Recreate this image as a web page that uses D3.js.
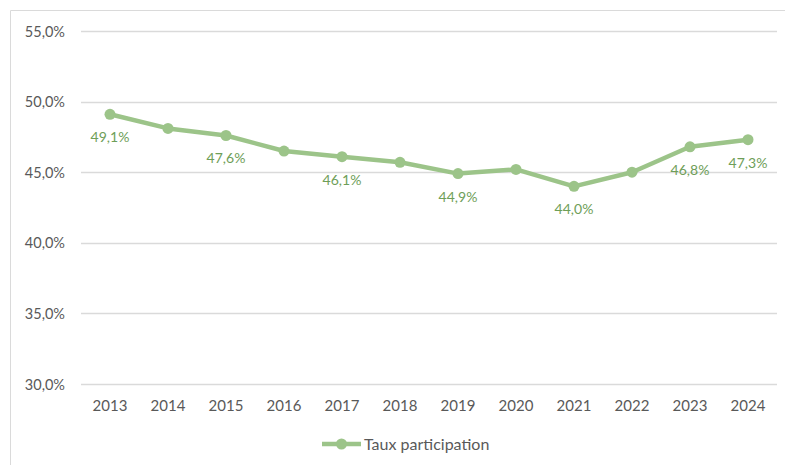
<!DOCTYPE html>
<html>
<head>
<meta charset="utf-8">
<script src="https://cdn.jsdelivr.net/npm/d3@7"></script>
<style>
  html, body { margin: 0; padding: 0; background: #fff; }
  svg { display: block; }
</style>
</head>
<body>
<svg id="chart" width="785" height="465"></svg>
<script>
// Participation rate per year (%)
const years = ["2013","2014","2015","2016","2017","2018","2019","2020","2021","2022","2023","2024"];
const rates = [49.1, 48.1, 47.6, 46.5, 46.1, 45.7, 44.9, 45.2, 44.0, 45.0, 46.8, 47.3];
// Years whose value is written next to the point
const labelledYears = ["2013","2015","2017","2019","2021","2023","2024"];
const yTicks = [30, 35, 40, 45, 50, 55];
const seriesName = "Taux participation";

const lineColor = "#9cc489";
const labelColor = "#6e9e58";
const textColor = "#595959";
const gridColor = "#dadada";
const font = "Lato, 'Open Sans', sans-serif";

const svg = d3.select("#chart");

// Outer chart frame (open to the right and bottom)
svg.append("path")
  .attr("d", "M10.5,465 V10.5 H785")
  .attr("fill", "none")
  .attr("stroke", gridColor)
  .attr("stroke-width", 1);

const x = d3.scaleBand().domain(years).range([81, 777]);
const y = d3.scaleLinear().domain([30, 55]).range([384, 31]);

// Horizontal gridlines
svg.append("g")
  .selectAll("line")
  .data(yTicks)
  .join("line")
  .attr("x1", 81).attr("x2", 777)
  .attr("y1", d => Math.round(y(d)) + 0.5)
  .attr("y2", d => Math.round(y(d)) + 0.5)
  .attr("stroke", gridColor)
  .attr("stroke-width", 1.3);

// Y axis labels
const fmt = d => d3.format(".1f")(d).replace(".", ",") + "%";
const yAxis = d3.axisLeft(y).tickValues(yTicks).tickFormat(fmt).tickSize(0).tickPadding(0);
svg.append("g")
  .attr("transform", "translate(65,0)")
  .call(yAxis)
  .call(g => g.select(".domain").remove())
  .call(g => g.selectAll("text")
    .attr("fill", textColor)
    .attr("font-family", font)
    .attr("font-size", 14.5)
    .attr("dy", "0.35em"));

// X axis labels
const xAxis = d3.axisBottom(x).tickSize(0).tickPadding(0);
svg.append("g")
  .attr("transform", "translate(0,400)")
  .call(xAxis)
  .call(g => g.select(".domain").remove())
  .call(g => g.selectAll("text")
    .attr("fill", textColor)
    .attr("font-family", font)
    .attr("font-size", 15)
    .attr("dy", "0.71em"));

const data = years.map((yr, i) => ({ year: yr, value: rates[i] }));
const cx = d => x(d.year) + x.bandwidth() / 2;

// Series line
svg.append("path")
  .datum(data)
  .attr("fill", "none")
  .attr("stroke", lineColor)
  .attr("stroke-width", 4.5)
  .attr("stroke-linejoin", "round")
  .attr("d", d3.line().x(cx).y(d => y(d.value)));

// Markers
svg.append("g")
  .selectAll("circle")
  .data(data)
  .join("circle")
  .attr("cx", cx)
  .attr("cy", d => y(d.value))
  .attr("r", 5.5)
  .attr("fill", lineColor);

// Value labels
svg.append("g")
  .selectAll("text")
  .data(data.filter(d => labelledYears.includes(d.year)))
  .join("text")
  .attr("x", cx)
  .attr("y", d => y(d.value) + 23)
  .attr("dy", "0.35em")
  .attr("text-anchor", "middle")
  .attr("fill", labelColor)
  .attr("font-family", font)
  .attr("font-size", 14)
  .text(d => fmt(d.value));

// Legend
const legend = svg.append("g").attr("transform", "translate(322,444)");
legend.append("line")
  .attr("x1", 0).attr("x2", 39)
  .attr("y1", 0).attr("y2", 0)
  .attr("stroke", lineColor)
  .attr("stroke-width", 4.5);
legend.append("circle")
  .attr("cx", 19.5).attr("cy", 0).attr("r", 5.5)
  .attr("fill", lineColor);
legend.append("text")
  .attr("x", 42).attr("y", 0)
  .attr("dy", "0.35em")
  .attr("fill", textColor)
  .attr("font-family", font)
  .attr("font-size", 16)
  .text(seriesName);
</script>
</body>
</html>
